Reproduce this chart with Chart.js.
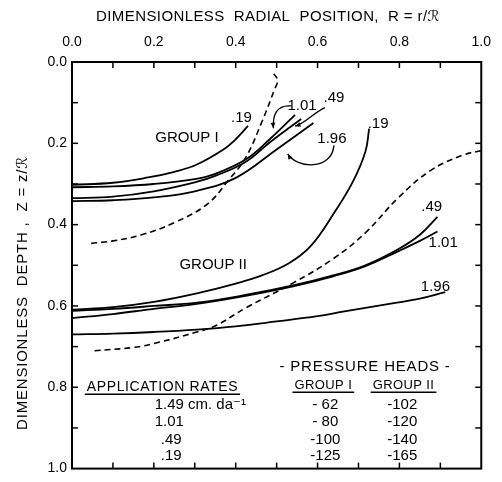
<!DOCTYPE html>
<html>
<head>
<meta charset="utf-8">
<script src="https://cdn.jsdelivr.net/npm/chart.js@4.4.0/dist/chart.umd.min.js"></script>
<style>
  html, body { margin: 0; padding: 0; background: #fff; }
  #wrap { width: 502px; height: 482px; }
</style>
</head>
<body>
<div id="wrap"><canvas id="frontChart" width="502" height="482"></canvas></div>
<script>
const FONT = "'Liberation Sans', 'DejaVu Sans', sans-serif";

// tick labels
const radialTicks = ['0.0', '0.2', '0.4', '0.6', '0.8', '1.0'];
const depthTicks = ['0.0', '0.2', '0.4', '0.6', '0.8', '1.0'];

// group I fronts: radial position R and depth Z
const g1R19 = [0, 0.1, 0.186, 0.25, 0.305, 0.37, 0.4, 0.43];
const g1Z19 = [0.302, 0.297, 0.284, 0.27, 0.252, 0.215, 0.19, 0.157];
const g1R101 = [0, 0.1, 0.2, 0.3, 0.35, 0.424, 0.483, 0.545];
const g1Z101 = [0.308, 0.306, 0.3, 0.288, 0.275, 0.24, 0.19, 0.13];
const g1R49 = [0, 0.1, 0.2, 0.3, 0.35, 0.424, 0.483, 0.56];
const g1Z49 = [0.335, 0.331, 0.318, 0.296, 0.28, 0.246, 0.198, 0.14];
const g1R196 = [0, 0.1, 0.2, 0.3, 0.4, 0.5, 0.59];
const g1Z196 = [0.342, 0.34, 0.333, 0.318, 0.285, 0.215, 0.15];
const g1DashR = [0.047, 0.1, 0.17, 0.25, 0.33, 0.383, 0.424, 0.464, 0.495, 0.502, 0.49];
const g1DashZ = [0.446, 0.44, 0.425, 0.395, 0.35, 0.29, 0.236, 0.147, 0.067, 0.045, 0.025];

// group II fronts
const g2R19 = [0, 0.1, 0.2, 0.305, 0.4, 0.464, 0.53, 0.583, 0.638, 0.686, 0.717, 0.726];
const g2Z19 = [0.609, 0.603, 0.59, 0.569, 0.545, 0.525, 0.495, 0.453, 0.375, 0.295, 0.22, 0.164];
const g2R49 = [0, 0.1, 0.2, 0.305, 0.424, 0.543, 0.638, 0.717, 0.798, 0.85, 0.893];
const g2Z49 = [0.612, 0.607, 0.6, 0.592, 0.573, 0.549, 0.525, 0.5, 0.46, 0.425, 0.381];
const g2R101 = [0, 0.1, 0.2, 0.305, 0.424, 0.543, 0.638, 0.717, 0.798, 0.85, 0.893];
const g2Z101 = [0.63, 0.62, 0.607, 0.595, 0.575, 0.551, 0.527, 0.502, 0.465, 0.44, 0.417];
const g2R196 = [0, 0.1, 0.2, 0.305, 0.4, 0.5, 0.6, 0.662, 0.757, 0.85, 0.912];
const g2Z196 = [0.67, 0.668, 0.664, 0.658, 0.65, 0.638, 0.625, 0.614, 0.598, 0.582, 0.566];
const g2DashR = [0.055, 0.15, 0.21, 0.305, 0.352, 0.424, 0.543, 0.638, 0.717, 0.798, 0.876, 0.955, 1.0];
const g2DashZ = [0.71, 0.702, 0.69, 0.664, 0.648, 0.605, 0.542, 0.484, 0.42, 0.333, 0.267, 0.229, 0.218];

// curve labels inside the plot (text, R, Z)
const curveLabels = ['GROUP I', '.19', '1.01', '.49', '1.96', '.19', 'GROUP II', '.49', '1.01', '1.96'];
const curveLabelR = [0.281, 0.414, 0.562, 0.640, 0.635, 0.748, 0.345, 0.879, 0.907, 0.888];
const curveLabelZ = [0.186, 0.137, 0.108, 0.089, 0.19, 0.152, 0.499, 0.357, 0.446, 0.554];

// table in the lower part
const rateLabels = ['1.49 cm. da\u207B\u00B9', '1.01', '.49', '.19'];
const headsGroup1 = ['- 62', '- 80', '-100', '-125'];
const headsGroup2 = ['-102', '-120', '-140', '-165'];
const tableRowZ = [0.843, 0.886, 0.929, 0.969];

function toPoints(rs, zs) {
    return rs.map((r, i) => ({ x: r, y: zs[i] }));
}

function front(label, rs, zs, dashed) {
    return {
        label,
        data: toPoints(rs, zs),
        showLine: true,
        borderColor: '#000',
        borderWidth: dashed ? 1.6 : 1.8,
        borderDash: dashed ? [6, 4] : [],
        pointRadius: 0,
        tension: 0.4,
        fill: false
    };
}

function strokeLine(ctx, x1, y1, x2, y2) {
    ctx.beginPath();
    ctx.moveTo(x1, y1);
    ctx.lineTo(x2, y2);
    ctx.stroke();
}

// frame with inward ticks every 0.1
const framePlugin = {
    id: 'frame',
    afterDraw(chart) {
        const { ctx, chartArea: a, scales: { x, y } } = chart;
        ctx.save();
        ctx.strokeStyle = '#000';
        ctx.lineWidth = 2;
        ctx.strokeRect(a.left, a.top, a.right - a.left, a.bottom - a.top);
        ctx.lineWidth = 1.5;
        for (let i = 1; i < 10; i++) {
            const px = x.getPixelForValue(i / 10);
            const py = y.getPixelForValue(i / 10);
            strokeLine(ctx, px, a.top, px, a.top + 6);
            strokeLine(ctx, px, a.bottom, px, a.bottom - 6);
            strokeLine(ctx, a.left, py, a.left + 6, py);
            strokeLine(ctx, a.right, py, a.right - 6, py);
        }
        ctx.restore();
    }
};

// texts: titles, curve labels, table
const textPlugin = {
    id: 'texts',
    afterDraw(chart) {
        const { ctx, scales: { x, y } } = chart;
        const px = v => x.getPixelForValue(v);
        const py = v => y.getPixelForValue(v);
        ctx.save();
        ctx.fillStyle = '#000';
        ctx.strokeStyle = '#000';
        ctx.textBaseline = 'middle';

        // axis titles
        ctx.font = '15px ' + FONT;
        ctx.textAlign = 'center';
        ctx.letterSpacing = '0.4px';
        ctx.fillText('DIMENSIONLESS  RADIAL  POSITION,  R = r/\u211B', 268, 17);
        ctx.letterSpacing = '0.8px';
        ctx.save();
        ctx.translate(23, 293);
        ctx.rotate(-Math.PI / 2);
        ctx.fillText('DIMENSIONLESS  DEPTH ,  Z = z/\u211B', 0, 0);
        ctx.restore();
        ctx.letterSpacing = '0px';

        // curve labels
        ctx.font = '15px ' + FONT;
        curveLabels.forEach((t, i) => ctx.fillText(t, px(curveLabelR[i]), py(curveLabelZ[i])));

        // arrows from labels to curves
        ctx.lineWidth = 1.3;
        const arrow = (pts) => {
            ctx.beginPath();
            ctx.moveTo(px(pts[0]), py(pts[1]));
            ctx.bezierCurveTo(px(pts[2]), py(pts[3]), px(pts[4]), py(pts[5]), px(pts[6]), py(pts[7]));
            ctx.stroke();
            const ex = px(pts[6]), ey = py(pts[7]);
            const ang = Math.atan2(ey - py(pts[5]), ex - px(pts[4]));
            ctx.beginPath();
            ctx.moveTo(ex, ey);
            ctx.lineTo(ex - 6 * Math.cos(ang - 0.4), ey - 6 * Math.sin(ang - 0.4));
            ctx.lineTo(ex - 6 * Math.cos(ang + 0.4), ey - 6 * Math.sin(ang + 0.4));
            ctx.closePath();
            ctx.fill();
        };
        arrow([0.535, 0.108, 0.5, 0.105, 0.49, 0.13, 0.492, 0.163]);
        arrow([0.618, 0.112, 0.59, 0.125, 0.57, 0.15, 0.545, 0.158]);
        arrow([0.64, 0.205, 0.635, 0.268, 0.548, 0.262, 0.527, 0.226]);

        // application rates table
        const underline = (t, cx, cy) => {
            const w = ctx.measureText(t).width;
            ctx.fillText(t, cx, cy);
            ctx.lineWidth = 1.4;
            strokeLine(ctx, cx - w / 2 - 2, cy + 7, cx + w / 2 + 2, cy + 7);
        };
        ctx.textAlign = 'center';
        ctx.font = '14px ' + FONT;
        ctx.letterSpacing = '0.6px';
        underline('APPLICATION RATES', px(0.221), py(0.80));
        ctx.font = '15px ' + FONT;
        ctx.letterSpacing = '0.8px';
        ctx.fillText('- PRESSURE HEADS -', px(0.716), py(0.749));
        ctx.font = '13px ' + FONT;
        ctx.letterSpacing = '0.4px';
        underline('GROUP I', px(0.614), py(0.795));
        underline('GROUP II', px(0.81), py(0.795));
        ctx.letterSpacing = '0px';

        ctx.font = '15px ' + FONT;
        rateLabels.forEach((t, i) => {
            ctx.textAlign = 'left';
            ctx.fillText(t, px(i < 2 ? 0.202 : 0.217), py(tableRowZ[i]));
            ctx.textAlign = 'center';
            ctx.fillText(headsGroup1[i], px(0.619), py(tableRowZ[i]));
            ctx.fillText(headsGroup2[i], px(0.807), py(tableRowZ[i]));
        });
        ctx.restore();
    }
};

const ctx = document.getElementById('frontChart').getContext('2d');
new Chart(ctx, {
    type: 'scatter',
    data: {
        datasets: [
            front('Group I .19', g1R19, g1Z19),
            front('Group I 1.01', g1R101, g1Z101),
            front('Group I .49', g1R49, g1Z49),
            front('Group I 1.96', g1R196, g1Z196),
            front('Group I boundary', g1DashR, g1DashZ, true),
            front('Group II .19', g2R19, g2Z19),
            front('Group II .49', g2R49, g2Z49),
            front('Group II 1.01', g2R101, g2Z101),
            front('Group II 1.96', g2R196, g2Z196),
            front('Group II boundary', g2DashR, g2DashZ, true)
        ]
    },
    options: {
        responsive: false,
        animation: false,
        layout: { padding: { left: 0, right: 10, top: 0, bottom: 5 } },
        plugins: { legend: { display: false }, tooltip: { enabled: false } },
        scales: {
            x: {
                type: 'linear',
                position: 'top',
                min: 0,
                max: 1,
                grid: { display: false, drawTicks: false },
                border: { display: false },
                ticks: {
                    stepSize: 0.2,
                    color: '#000',
                    padding: 11,
                    maxRotation: 0,
                    font: { family: FONT, size: 14 },
                    callback: v => radialTicks[Math.round(v / 0.2)]
                },
                afterFit: s => { s.height = 62; }
            },
            y: {
                type: 'linear',
                reverse: true,
                min: 0,
                max: 1,
                grid: { display: false, drawTicks: false },
                border: { display: false },
                ticks: {
                    stepSize: 0.2,
                    color: '#000',
                    padding: 5,
                    font: { family: FONT, size: 14 },
                    callback: v => depthTicks[Math.round(v / 0.2)]
                },
                afterFit: s => { s.width = 72; }
            }
        }
    },
    plugins: [framePlugin, textPlugin]
});
</script>
</body>
</html>
